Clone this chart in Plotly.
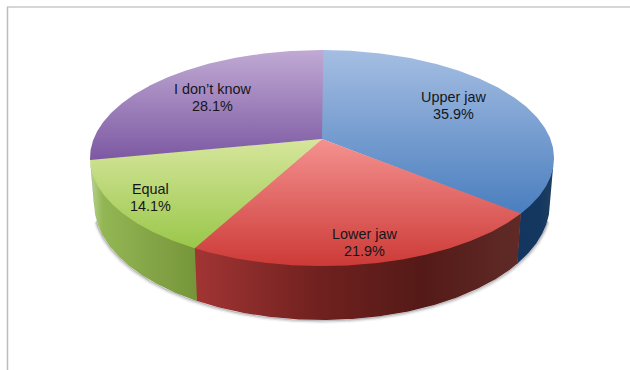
import numpy as np
import plotly.graph_objects as go

# Survey answers, clockwise from twelve o'clock
categories = ["Upper jaw", "Lower jaw", "Equal", "I don't know"]
shares = [35.9, 21.9, 14.1, 28.1]

# Pie colours: top-face vertical gradients and side-wall horizontal gradients
top_colors = [
    ["#a5bee2", "#4a7ebf"],
    ["#f49290", "#cd3a37"],
    ["#d6e69c", "#9ac74a"],
    ["#c0aad4", "#7c58a2"],
]
wall_colors = [
    [[0, "#123660"], [0.6, "#14375f"], [1, "#20405f"]],
    [[0, "#a23534"], [0.38, "#70211f"], [0.7, "#541a17"], [1, "#602b27"]],
    [[0, "#b9d690"], [0.12, "#93b654"], [1, "#76953a"]],
    [[0, "#5f4378"], [1, "#5f4378"]],
]

# Perspective of the pie disc on the page
CX, CY = 322.0, 139.0
AX, BY = 228.4, 104.7
TILT = 0.176
WALL = 44.5
WALL_SCALE = 0.982

# Label placement in the pie plane: radius fraction and turn from the slice middle
label_radius = [0.70, 0.855, 0.85, 0.67]
label_turn = [-4.0, 0.7, 0.0, 0.5]


def top_xy(theta_deg, r=1.0):
    t = np.radians(theta_deg)
    u, v = r * np.sin(t), r * np.cos(t)
    w = 1 + TILT * v
    return CX + AX * u / w, CY - BY * v / w


def bottom_xy(theta_deg):
    x, y = top_xy(theta_deg)
    w = 1 + TILT * np.cos(np.radians(theta_deg))
    return CX + (x - CX) * WALL_SCALE, y + WALL / w


total = sum(shares)
edges = np.concatenate([[0], np.cumsum(shares)]) / total * 360
tangent = np.degrees(np.arccos(-TILT))
fig = go.Figure()

# Soft shadow hugging the lower rim, fading out towards the sides
arc = np.linspace(tangent + 8, 360 - tangent - 8, 240)
sx, sy = bottom_xy(arc)
for offset, alpha, width in [(2.4, 0.07, 2.5), (1.4, 0.16, 2), (0.6, 0.35, 1.2)]:
    fig.add_trace(go.Scatter(
        x=sx + np.sign(sx - CX) * offset * 0.6, y=sy + offset, mode="lines",
        line=dict(color=f"rgba(95,95,105,{alpha})", width=width),
        hoverinfo="skip", showlegend=False,
    ))

# Side walls: the part of each slice facing the viewer; the upper edge rises
# a pixel under the top face and each wall runs slightly under the next one
for i in range(len(shares)):
    lo, hi = max(edges[i], tangent), min(edges[i + 1], 360 - tangent)
    if hi <= lo:
        continue
    a = np.linspace(lo, min(hi + 0.2, 360 - tangent), 160)
    tx, ty = top_xy(a)
    bx, by = bottom_xy(a)
    xs = np.concatenate([tx, bx[::-1]])
    ys = np.concatenate([ty - 1.5, by[::-1]])
    fig.add_trace(go.Scatter(
        x=xs, y=ys, mode="lines", fill="toself",
        line=dict(width=0),
        fillgradient=dict(
            type="horizontal",
            colorscale=wall_colors[i],
            start=float(xs.min()), stop=float(xs.max()),
        ),
        hoverinfo="skip", showlegend=False,
    ))

# Top faces, each running slightly under the next slice
for i in range(len(shares)):
    a = np.linspace(edges[i], edges[i + 1] + 0.4, 240)
    ax_, ay_ = top_xy(a)
    xs = np.concatenate([[CX], ax_, [CX]])
    ys = np.concatenate([[CY], ay_, [CY]])
    fig.add_trace(go.Scatter(
        x=xs, y=ys, mode="lines", fill="toself",
        line=dict(width=0),
        fillgradient=dict(
            type="vertical",
            colorscale=[[0, top_colors[i][0]], [1, top_colors[i][1]]],
            start=float(ys.min()), stop=float(ys.max()),
        ),
        hoverinfo="skip", showlegend=False,
    ))

# Two-line labels with tight leading
mid = (edges[:-1] + edges[1:]) / 2
for i, name in enumerate(categories):
    lx, ly = top_xy(mid[i] + label_turn[i], label_radius[i])
    for dy, txt in [(-8.5, name.replace("'", "\u2019")), (8.5, f"{shares[i]:.1f}%")]:
        fig.add_annotation(
            x=float(lx), y=float(ly + dy), text=txt, showarrow=False,
            font=dict(family="Liberation Sans", size=14.4, color="#16161a"),
        )

# Thin frame along the top and left
fig.add_shape(type="line", x0=7, x1=630, y0=7, y1=7, line=dict(color="#c9c9c9", width=1.5))
fig.add_shape(type="line", x0=7.5, x1=7.5, y0=7, y1=370, line=dict(color="#bdbdbd", width=1.5))

fig.update_layout(
    width=630, height=370, margin=dict(l=0, r=0, t=0, b=0),
    paper_bgcolor="white", plot_bgcolor="white", showlegend=False,
    xaxis=dict(range=[0, 630], visible=False, fixedrange=True),
    yaxis=dict(range=[370, 0], visible=False, fixedrange=True),
)
fig.write_html("out.html", config=dict(displayModeBar=False))
